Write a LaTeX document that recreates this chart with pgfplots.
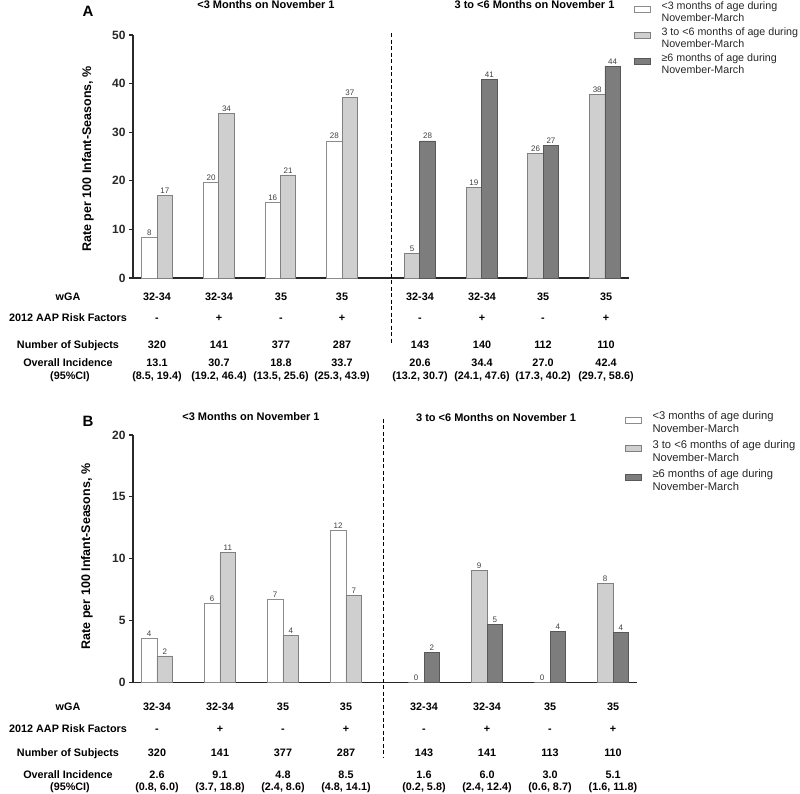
\documentclass[border=0pt]{standalone}
\usepackage{fontspec}
\setmainfont{Liberation Sans}
\usepackage{pgfplots}
\pgfplotsset{compat=1.18}

\definecolor{barlight}{RGB}{207,207,207}
\definecolor{bardark}{RGB}{125,125,125}
\definecolor{edgewhite}{RGB}{140,140,140}
\definecolor{edgelight}{RGB}{128,128,128}
\definecolor{edgedark}{RGB}{88,88,88}
\definecolor{axisgray}{RGB}{40,40,40}

\newcommand\tabfont{\fontsize{10.8}{12}\selectfont\bfseries}
\newcommand\titlefont{\fontsize{11}{12}\selectfont\bfseries}

\tikzset{sepline/.style={black, line width=1.2pt, dash pattern=on 4pt off 2.5pt}}

\pgfplotsset{
  panel/.style={
    scale only axis,
    axis lines*=left,
    axis line style={axisgray, line width=1.3pt},
    xtick=\empty,
    ytick style={axisgray, line width=1.1pt},
    tick align=outside,
    major tick length=4pt,
    yticklabel style={font=\fontsize{12}{12}\selectfont\bfseries, color=axisgray},
    /pgf/number format/assume math mode=true,
    clip=false,
    bar width=0.25,
    nodes near coords,
    point meta=explicit symbolic,
    every node near coord/.append style={font=\fontsize{8}{8}\selectfont, color=black!75, inner sep=1.5pt},
    legend cell align=left,
    legend style={draw=none, fill=none, anchor=north west, inner sep=0pt,
      text=black!85, column sep=0pt, cells={align=left}, nodes={inner sep=0.5pt}},
  },
  barbase/.style={ybar, bar shift=0pt, line width=0.8pt,
    legend image code/.code={\draw[##1] (0pt,0pt) rectangle (16pt,6pt);
      \path[draw=none, fill=none] (16pt,3pt) -- (26.5pt,3pt);}},
  whitebar/.style={barbase, fill=white, draw=edgewhite},
  lightbar/.style={barbase, fill=barlight, draw=edgelight},
  darkbar/.style={barbase, fill=bardark, draw=edgedark},
}

\begin{document}
\begin{tikzpicture}
\path[use as bounding box] (0,0) rectangle (800pt,794pt);

% ---------------- panel A ----------------
\begin{axis}[panel, at={(133pt,516pt)}, anchor=south west,
  width=496pt, height=243pt,
  xmin=-0.39, xmax=7.65, ymin=0, ymax=50, ytick={0,10,...,50},
  legend style={at={(1.010,1.140)}, font=\fontsize{10.7}{12}\selectfont, row sep=4pt}]
\addplot[whitebar] coordinates {(-0.125,8.4) [8] (0.875,19.6) [20] (1.875,15.6) [16] (2.875,28.2) [28]};
\addlegendentry{<3 months of age during\\November-March}
\addplot[lightbar] coordinates {(0.125,17.0) [17] (1.125,33.8) [34] (2.125,21.2) [21] (3.125,37.2) [37]
  (4.135,5.0) [5] (5.135,18.6) [19] (6.135,25.7) [26] (7.135,37.7) [38]};
\addlegendentry{3 to <6 months of age during\\November-March}
\addplot[darkbar] coordinates {(4.385,28.2) [28] (5.385,40.9) [41] (6.385,27.2) [27] (7.385,43.6) [44]};
\addlegendentry{≥6 months of age during\\November-March}
\draw[sepline] (axis cs:3.80,50.4) -- (axis cs:3.80,-13.4);
\end{axis}

% ---------------- panel B ----------------
\begin{axis}[panel, at={(133pt,111.7pt)}, anchor=south west,
  width=504pt, height=247.3pt,
  xmin=-0.38, xmax=7.62, ymin=0, ymax=20, ytick={0,5,...,20},
  legend style={at={(0.976,1.097)}, font=\fontsize{11.2}{13}\selectfont, row sep=5pt}]
\addplot[whitebar] coordinates {(-0.125,3.57) [4] (0.875,6.4) [6] (1.875,6.7) [7] (2.875,12.3) [12]};
\addlegendentry{<3 months of age during\\November-March}
\addplot[lightbar] coordinates {(0.125,2.13) [2] (1.125,10.5) [11] (2.125,3.78) [4] (3.125,7.0) [7]
  (4.115,0) [0] (5.115,9.08) [9] (6.115,0) [0] (7.115,8.0) [8]};
\addlegendentry{3 to <6 months of age during\\November-March}
\addplot[darkbar] coordinates {(4.365,2.4) [2] (5.365,4.7) [5] (6.365,4.1) [4] (7.365,4.0) [4]};
\addlegendentry{≥6 months of age during\\November-March}
\draw[sepline] (axis cs:3.59,21.3) -- (axis cs:3.59,-6.1);
\end{axis}

% panel letters, titles, y labels
\node[font=\fontsize{15}{15}\selectfont\bfseries] at (88pt,782.5pt) {A};
\node[font=\fontsize{15}{15}\selectfont\bfseries] at (88pt,373pt) {B};
\node[font=\titlefont, anchor=north, inner sep=0pt] at (266pt,794pt) {<3 Months on November 1};
\node[font=\titlefont, anchor=north, inner sep=0pt] at (534.5pt,794pt) {3 to <6 Months on November 1};
\node[font=\titlefont] at (251pt,377.5pt) {<3 Months on November 1};
\node[font=\titlefont] at (496pt,376pt) {3 to <6 Months on November 1};
\node[rotate=90, font=\fontsize{12.5}{12.5}\selectfont\bfseries] at (88pt,635pt) {Rate per 100 Infant-Seasons, \%};
\node[rotate=90, font=\fontsize{12.5}{12.5}\selectfont\bfseries] at (87pt,237.5pt) {Rate per 100 Infant-Seasons, \%};

% table rows, panel A
\begin{scope}[every node/.style={font=\tabfont, anchor=base, inner sep=0pt}]
\node at (68pt,493pt) {wGA};
\node at (68pt,472pt) {2012 AAP Risk Factors};
\node at (68pt,445pt) {Number of Subjects};
\node at (68pt,427.5pt) {Overall Incidence};
\node at (70pt,414pt) {(95\%CI)};
\foreach \x/\w/\r/\n/\i/\c in {
  157/32-34/-/320/13.1/{(8.5, 19.4)},
  219/32-34/+/141/30.7/{(19.2, 46.4)},
  281/35/-/377/18.8/{(13.5, 25.6)},
  342/35/+/287/33.7/{(25.3, 43.9)},
  420/32-34/-/143/20.6/{(13.2, 30.7)},
  482/32-34/+/140/34.4/{(24.1, 47.6)},
  543/35/-/112/27.0/{(17.3, 40.2)},
  606/35/+/110/42.4/{(29.7, 58.6)}}{
  \node at (\x pt,493pt) {\w};
  \node at (\x pt,472pt) {\r};
  \node at (\x pt,445pt) {\n};
  \node at (\x pt,427.5pt) {\i};
  \node at (\x pt,414pt) {\c};
}
% table rows, panel B
\node at (68pt,83pt) {wGA};
\node at (68pt,61pt) {2012 AAP Risk Factors};
\node at (68pt,37pt) {Number of Subjects};
\node at (68pt,15pt) {Overall Incidence};
\node at (70pt,3pt) {(95\%CI)};
\foreach \x/\w/\r/\n/\i/\c in {
  157/32-34/-/320/2.6/{(0.8, 6.0)},
  220/32-34/+/141/9.1/{(3.7, 18.8)},
  283/35/-/377/4.8/{(2.4, 8.6)},
  346/35/+/287/8.5/{(4.8, 14.1)},
  424/32-34/-/143/1.6/{(0.2, 5.8)},
  487/32-34/+/141/6.0/{(2.4, 12.4)},
  550/35/-/113/3.0/{(0.6, 8.7)},
  613/35/+/110/5.1/{(1.6, 11.8)}}{
  \node at (\x pt,83pt) {\w};
  \node at (\x pt,61pt) {\r};
  \node at (\x pt,37pt) {\n};
  \node at (\x pt,15pt) {\i};
  \node at (\x pt,3pt) {\c};
}
\end{scope}
\end{tikzpicture}
\end{document}
